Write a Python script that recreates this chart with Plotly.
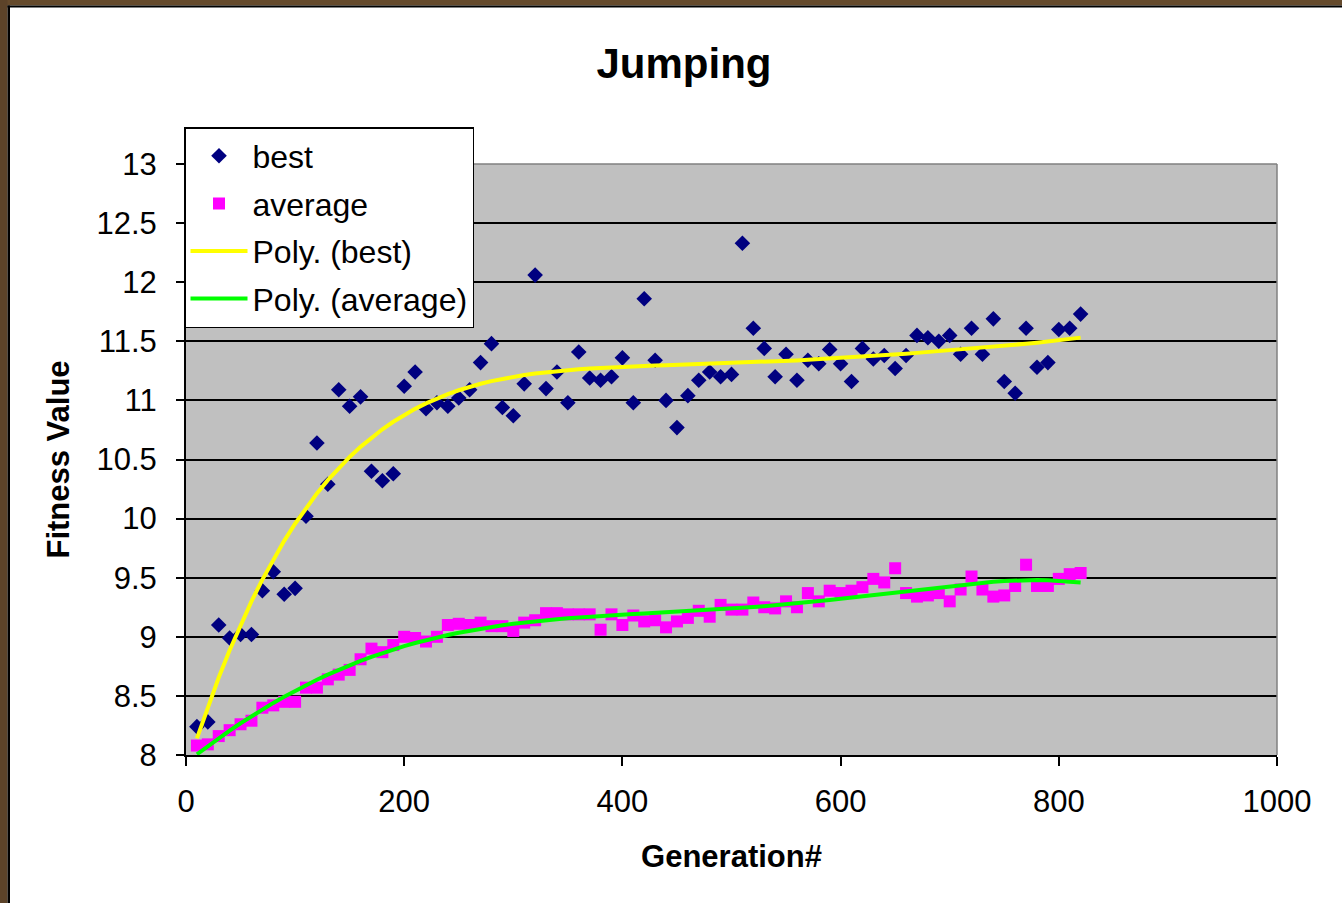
import numpy as np
import plotly.graph_objects as go

generations = list(range(10, 830, 10))

best = [8.24, 8.28, 9.10, 8.99, 9.02, 9.02, 9.39, 9.55, 9.36, 9.41,
        10.02, 10.64, 10.29, 11.09, 10.95, 11.03, 10.40, 10.32, 10.38, 11.12,
        11.24, 10.93, 10.98, 10.95, 11.02, 11.09, 11.32, 11.48, 10.94, 10.87,
        11.14, 12.06, 11.10, 11.24, 10.98, 11.41, 11.19, 11.17, 11.20, 11.36,
        10.98, 11.86, 11.34, 11.00, 10.77, 11.04, 11.17, 11.24, 11.20, 11.22,
        12.33, 11.61, 11.44, 11.20, 11.39, 11.17, 11.34, 11.31, 11.43, 11.31,
        11.16, 11.44, 11.35, 11.38, 11.27, 11.38, 11.55, 11.53, 11.50, 11.55,
        11.39, 11.61, 11.39, 11.69, 11.16, 11.06, 11.61, 11.28, 11.32, 11.60,
        11.61, 11.73]

average = [8.08, 8.09, 8.16, 8.21, 8.26, 8.29, 8.40, 8.42, 8.45, 8.45,
           8.57, 8.57, 8.64, 8.68, 8.72, 8.81, 8.90, 8.87, 8.93, 9.00,
           8.99, 8.96, 9.00, 9.10, 9.11, 9.10, 9.12, 9.09, 9.09, 9.05,
           9.12, 9.14, 9.20, 9.20, 9.19, 9.19, 9.19, 9.06, 9.19, 9.10,
           9.18, 9.13, 9.14, 9.08, 9.13, 9.16, 9.22, 9.17, 9.27, 9.23,
           9.23, 9.29, 9.25, 9.24, 9.30, 9.25, 9.37, 9.30, 9.39, 9.37,
           9.39, 9.42, 9.49, 9.46, 9.58, 9.37, 9.34, 9.35, 9.37, 9.30,
           9.40, 9.51, 9.40, 9.34, 9.35, 9.43, 9.61, 9.43, 9.43, 9.49,
           9.53, 9.54]

x_ticks = [0, 200, 400, 600, 800, 1000]
y_ticks = [8, 8.5, 9, 9.5, 10, 10.5, 11, 11.5, 12, 12.5, 13]
y_tick_text = ["8", "8.5", "9", "9.5", "10", "10.5", "11", "11.5", "12", "12.5", "13"]

POLY_ORDER = 5
gx = np.array(generations, dtype=float)
best_fit = np.polynomial.Polynomial.fit(gx, np.array(best), POLY_ORDER)(gx)
avg_fit = np.polynomial.Polynomial.fit(gx, np.array(average), POLY_ORDER)(gx)

W, H = 1342, 903
L, R, T, B = 186, 65, 164, 148
pw, ph = W - L - R, H - T - B

FONT = "Liberation Sans, Arial, sans-serif"

fig = go.Figure()
fig.add_trace(go.Scatter(x=generations, y=best, mode="markers", name="best",
                         legendgroup="a",
                         marker=dict(symbol="diamond", size=12, color="#000080",
                                     line=dict(width=0))))
fig.add_trace(go.Scatter(x=generations, y=average, mode="markers", name="average",
                         legendgroup="b",
                         marker=dict(symbol="square", size=12, color="#FF00FF",
                                     line=dict(width=0))))
fig.add_trace(go.Scatter(x=generations, y=best_fit, mode="lines", name="Poly. (best)",
                         legendgroup="c",
                         line=dict(color="#FFFF00", width=4)))
fig.add_trace(go.Scatter(x=generations, y=avg_fit, mode="lines", name="Poly. (average)",
                         legendgroup="d",
                         line=dict(color="#00FF00", width=4)))

def px_x(p):
    return (p - L) / pw

def px_y(p):
    return 1 - (p - T) / ph

shapes = [
    dict(type="line", xref="paper", yref="paper", x0=0, x1=1, y0=1, y1=1,
         line=dict(color="#808080", width=1.5)),
    dict(type="line", xref="paper", yref="paper", x0=1, x1=1, y0=0, y1=1,
         line=dict(color="#808080", width=1.5)),
    dict(type="rect", xref="paper", yref="paper", x0=px_x(0), x1=px_x(W), y0=px_y(0), y1=px_y(5.5),
         fillcolor="#654A2C", line=dict(width=0), layer="above"),
    dict(type="rect", xref="paper", yref="paper", x0=px_x(0), x1=px_x(7.5), y0=px_y(0), y1=px_y(H),
         fillcolor="#5C4329", line=dict(width=0), layer="above"),
    dict(type="rect", xref="paper", yref="paper", x0=px_x(7.5), x1=px_x(W), y0=px_y(5.5), y1=px_y(7.5),
         fillcolor="#000000", line=dict(width=0), layer="above"),
    dict(type="rect", xref="paper", yref="paper", x0=px_x(7.5), x1=px_x(10), y0=px_y(5.5), y1=px_y(H),
         fillcolor="#000000", line=dict(width=0), layer="above"),
]

fig.update_layout(
    width=W, height=H,
    margin=dict(l=L, r=R, t=T, b=B, pad=0),
    paper_bgcolor="white",
    plot_bgcolor="#C0C0C0",
    font=dict(family=FONT, color="black", size=31),
    title=dict(text="<b>Jumping</b>", x=684 / W, xref="container", xanchor="center",
               y=1 - 63 / H, yref="container", yanchor="middle",
               font=dict(size=42, family=FONT, color="black")),
    showlegend=True,
    legend=dict(x=px_x(184), y=px_y(127), xanchor="left", yanchor="top",
                bgcolor="white", bordercolor="black", borderwidth=1.5,
                font=dict(size=32, family=FONT, color="black"),
                tracegroupgap=3, itemwidth=57, traceorder="grouped"),
    shapes=shapes,
)

fig.update_xaxes(range=[0, 1000], tickvals=x_ticks, ticktext=[str(v) for v in x_ticks],
                 showgrid=False, zeroline=False, showline=True, linecolor="black", linewidth=2,
                 ticks="outside", ticklen=9, tickwidth=2, tickcolor="black",
                 ticklabelstandoff=9,
                 tickfont=dict(size=31, family=FONT, color="black"),
                 title=dict(text="<b>Generation#</b>", standoff=27,
                            font=dict(size=31, family=FONT, color="black")))
fig.update_yaxes(range=[8, 13], tickvals=y_ticks, ticktext=y_tick_text,
                 showgrid=True, gridcolor="black", gridwidth=2,
                 zeroline=False, showline=True, linecolor="black", linewidth=2,
                 ticks="outside", ticklen=8, tickwidth=2, tickcolor="black",
                 ticklabelstandoff=13,
                 tickfont=dict(size=31, family=FONT, color="black"),
                 title=dict(text="<b>Fitness Value</b>", standoff=18,
                            font=dict(size=31, family=FONT, color="black")))

fig.write_html("out.html")
